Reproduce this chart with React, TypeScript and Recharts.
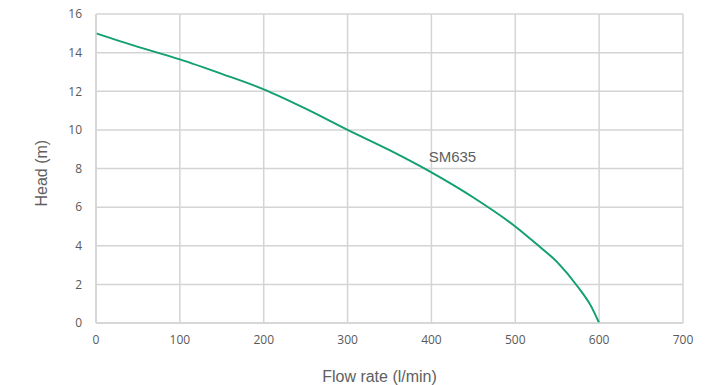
import React from 'react';
import { LineChart, Line, XAxis, YAxis, CartesianGrid, ReferenceDot } from 'recharts';

// pump curve
const flow = [0, 50, 100, 150, 200, 250, 300, 350, 400, 450, 500, 525, 550, 575, 590, 600];
const head = [15, 14.3, 13.65, 12.9, 12.1, 11.1, 10, 8.95, 7.8, 6.5, 5.0, 4.1, 3.15, 1.85, 0.9, 0];
const xTicks = [0, 100, 200, 300, 400, 500, 600, 700];
const yTicks = [0, 2, 4, 6, 8, 10, 12, 14, 16];
const seriesName = 'SM635';

const data = flow.map((f, i) => ({ flow: f, head: head[i] }));

const grid = '#d4d4d4';
const tickFont = 'Open Sans, sans-serif';
const titleFont = 'Liberation Sans, Arial, sans-serif';
const tickStyle = { fill: '#595959', fontSize: 12, fontFamily: tickFont };

export default function App() {
  return (
    <div style={{ position: 'absolute', left: 0, top: 0 }}>
      <LineChart width={708} height={385} data={data} margin={{ top: 14, right: 25, bottom: 0, left: 0 }}>
        <CartesianGrid stroke={grid} strokeWidth={1.5} />
        <XAxis
          dataKey="flow"
          type="number"
          domain={[0, 700]}
          ticks={xTicks}
          height={62}
          tickLine={false}
          axisLine={{ stroke: grid, strokeWidth: 1.5 }}
          tick={tickStyle}
          tickMargin={6}
          label={{ value: 'Flow rate (l/min)', position: 'insideBottom', offset: 3, dx: -10, fill: '#606060', fontSize: 16, fontFamily: titleFont }}
        />
        <YAxis
          type="number"
          domain={[0, 16]}
          ticks={yTicks}
          width={96}
          tickLine={false}
          axisLine={{ stroke: grid, strokeWidth: 1.5 }}
          tick={tickStyle}
          tickMargin={8}
          label={{ value: 'Head (m)', angle: -90, position: 'insideLeft', offset: 41, dy: 38, fill: '#606060', fontSize: 16, fontFamily: titleFont }}
        />
        <Line
          dataKey="head"
          type="monotone"
          stroke="#13a070"
          strokeWidth={2}
          dot={false}
          isAnimationActive={false}
        />
        <ReferenceDot
          x={425}
          y={8.6}
          r={0}
          label={{ value: seriesName, position: 'center', fill: '#606060', fontSize: 15, fontFamily: titleFont }}
        />
      </LineChart>
    </div>
  );
}
